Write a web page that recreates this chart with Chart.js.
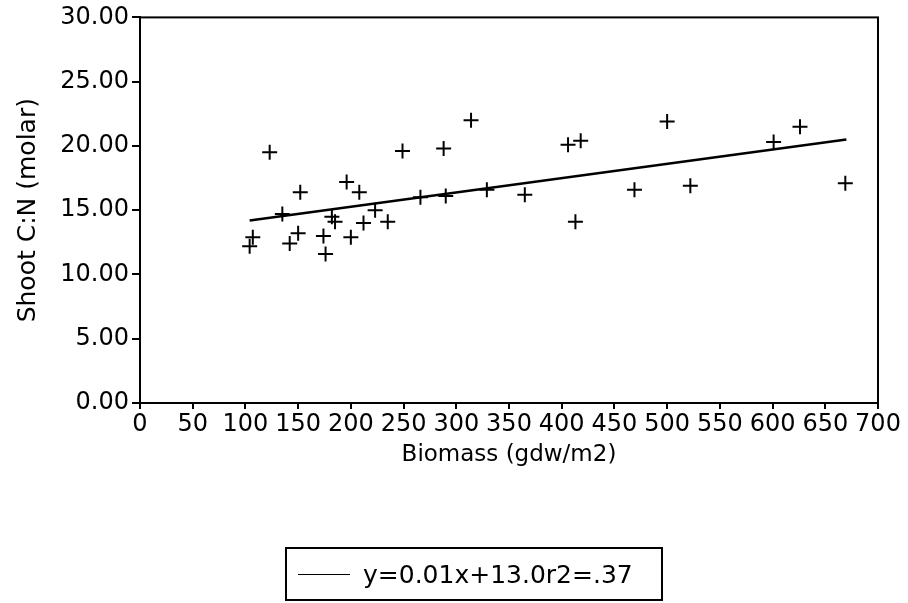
<!DOCTYPE html>
<html>
<head>
<meta charset="utf-8">
<script src="https://cdn.jsdelivr.net/npm/chart.js@4/dist/chart.umd.min.js"></script>
<style>
  body { margin: 0; background: #fff; }
  #wrap { position: relative; width: 908px; height: 603px; }
  #leyenda {
    position: absolute; left: 285px; top: 547px; width: 374px; height: 50px;
    border: 2px solid #000; font-family: "DejaVu Sans", sans-serif; font-size: 25px;
    display: flex; align-items: center; color: #000;
  }
  #leyenda .linea { width: 52px; height: 0; border-top: 1.5px solid #000; margin: 0 13px 0 11px; }
</style>
</head>
<body>
<div id="wrap">
  <canvas id="grafica" width="908" height="603"></canvas>
  <div id="leyenda"><span class="linea"></span><span id="textoLeyenda"></span></div>
</div>
<script>
// datos
const biomasa = [123, 152, 135, 107, 104, 150, 142, 196, 208, 182, 185, 174, 176, 200, 212, 223, 235,
  249, 266, 290, 288, 314, 329, 365, 406, 418, 413, 469, 500, 522, 601, 626, 669];
const relacionCN = [19.5, 16.4, 14.7, 12.9, 12.2, 13.2, 12.4, 17.2, 16.4, 14.5, 14.1, 13.0, 11.6, 12.9, 14.0, 15.0, 14.1,
  19.6, 16.0, 16.1, 19.8, 22.0, 16.6, 16.2, 20.1, 20.4, 14.1, 16.6, 21.9, 16.9, 20.3, 21.5, 17.1];

// recta de ajuste (extremos)
const ajusteX = [104, 670];
const ajusteY = [14.2, 20.5];
const etiquetaAjuste = "y=0.01x+13.0r2=.37";

const tituloX = "Biomass (gdw/m2)";
const tituloY = "Shoot C:N (molar)";

const puntos = biomasa.map((x, i) => ({ x: x, y: relacionCN[i] }));
const recta = ajusteX.map((x, i) => ({ x: x, y: ajusteY[i] }));

document.getElementById("textoLeyenda").textContent = etiquetaAjuste;

// marco alrededor del area
const marco = {
  id: "marco",
  afterDraw(chart) {
    const a = chart.chartArea;
    const ctx = chart.ctx;
    ctx.save();
    ctx.strokeStyle = "#000";
    ctx.lineWidth = 2;
    ctx.strokeRect(a.left, a.top, a.right - a.left, a.bottom - a.top);
    ctx.restore();
  }
};

const fuente = "'DejaVu Sans', sans-serif";

new Chart(document.getElementById("grafica"), {
  type: "scatter",
  data: {
    datasets: [
      {
        label: "datos",
        data: puntos,
        pointStyle: "cross",
        pointRadius: 7.5,
        pointBorderWidth: 2,
        borderColor: "#000",
        backgroundColor: "#000"
      },
      {
        type: "line",
        label: etiquetaAjuste,
        data: recta,
        borderColor: "#000",
        borderWidth: 2.5,
        pointRadius: 0,
        fill: false
      }
    ]
  },
  options: {
    responsive: false,
    animation: false,
    layout: { padding: { top: 17, right: 30, bottom: 123, left: 0 } },
    plugins: {
      legend: { display: false },
      tooltip: { enabled: false }
    },
    scales: {
      x: {
        type: "linear",
        min: 0, max: 700,
        afterFit: s => { s.height = 77; },
        ticks: { stepSize: 50, color: "#000", padding: 1, maxRotation: 0, autoSkip: false,
          font: { family: fuente, size: 24 } },
        grid: { drawOnChartArea: false, tickLength: 6, color: "#000", lineWidth: 2 },
        border: { color: "#000", width: 2 },
        title: { display: true, text: tituloX, color: "#000", padding: { top: 0, bottom: 11 },
          font: { family: fuente, size: 23 } }
      },
      y: {
        min: 0, max: 30,
        afterFit: s => { s.width = 140; },
        ticks: { stepSize: 5, color: "#000", padding: 3, callback: v => v.toFixed(2),
          font: { family: fuente, size: 24 } },
        grid: { drawOnChartArea: false, tickLength: 8, color: "#000", lineWidth: 2 },
        border: { color: "#000", width: 2 },
        title: { display: true, text: tituloY, color: "#000", padding: { top: 13, bottom: 0 },
          font: { family: fuente, size: 25 } }
      }
    }
  },
  plugins: [marco]
});
</script>
</body>
</html>
